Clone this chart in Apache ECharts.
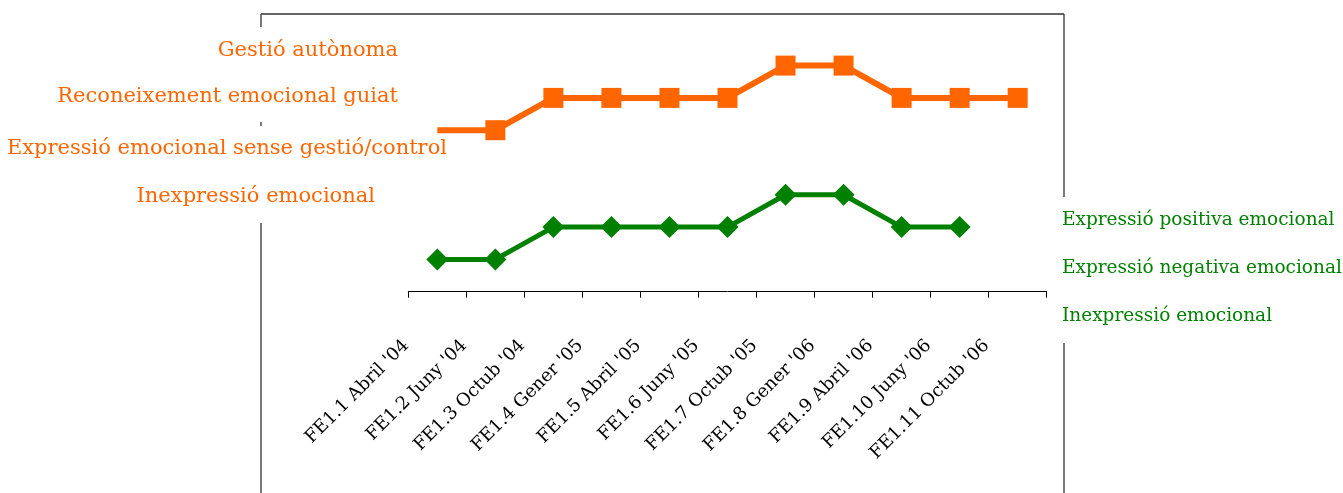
<!DOCTYPE html>
<html>
<head>
<meta charset="utf-8">
<script src="https://cdn.jsdelivr.net/npm/echarts@6/dist/echarts.min.js"></script>
<style>
  html, body { margin: 0; padding: 0; background: #fff; }
  #chart { width: 1343px; height: 493px; }
</style>
</head>
<body>
<div id="chart"></div>
<script>
const categories = ['FE1.1 Abril \'04', 'FE1.2 Juny \'04', 'FE1.3 Octub \'04', 'FE1.4 Gener \'05',
  'FE1.5 Abril \'05', 'FE1.6 Juny \'05', 'FE1.7 Octub \'05', 'FE1.8 Gener \'06',
  'FE1.9 Abril \'06', 'FE1.10 Juny \'06', 'FE1.11 Octub \'06']
// orange scale: 1 Inexpressio .. 4 Gestio autonoma
const gestioValues = [2, 2, 3, 3, 3, 3, 4, 4, 3, 3, 3]
// green scale: 1 Inexpressio .. 3 Expressio positiva
const expressioValues = [1, 1, 2, 2, 2, 2, 3, 3, 2, 2, null]
const orangeLabels = ['Gestió autònoma', 'Reconeixement emocional guiat',
  'Expressió emocional sense gestió/control', 'Inexpressió emocional']
const greenLabels = ['Expressió positiva emocional', 'Expressió negativa emocional', 'Inexpressió emocional']

const ORANGE = '#ff6600'
const GREEN = '#008000'
const FONT = 'DejaVu Serif'

const chart = echarts.init(document.getElementById('chart'))

// text block anchors (x edge, middle y)
const orangePos = [[398, 51], [398, 97], [447, 149], [375, 197]]
const greenPos = [[1062, 220], [1062, 268], [1062, 316]]

const frame = (x1, y1, x2, y2) => ({
  type: 'line',
  shape: { x1: x1, y1: y1, x2: x2, y2: y2 },
  style: { stroke: '#333', lineWidth: 1.3 }
})

const graphics = [
  frame(261, 14, 1064, 14),
  frame(261, 14, 261, 27),
  frame(261, 122, 261, 126),
  frame(261, 223, 261, 493),
  frame(1064, 14, 1064, 197),
  frame(1064, 343, 1064, 493)
]
orangeLabels.forEach((t, i) => {
  graphics.push({
    type: 'text',
    x: orangePos[i][0],
    y: orangePos[i][1],
    style: { text: t, fill: ORANGE, font: '21px "' + FONT + '"', align: 'right', verticalAlign: 'middle' }
  })
})
greenLabels.forEach((t, i) => {
  graphics.push({
    type: 'text',
    x: greenPos[i][0],
    y: greenPos[i][1],
    style: { text: t, fill: GREEN, font: '18.5px "' + FONT + '"', align: 'left', verticalAlign: 'middle' }
  })
})

chart.setOption({
  animation: false,
  grid: { left: 408.3, right: 296.3, top: 33.3, bottom: 201.3 },
  xAxis: {
    type: 'category',
    data: categories,
    boundaryGap: true,
    axisLine: { lineStyle: { color: '#000', width: 1 } },
    axisTick: { show: true, interval: 0, length: 6, lineStyle: { color: '#000' } },
    axisLabel: {
      interval: 0,
      rotate: 45,
      margin: 20,
      padding: [0, 44, 0, 0],
      color: '#000',
      fontFamily: FONT,
      fontSize: 18
    },
    splitLine: { show: false }
  },
  yAxis: [
    { type: 'value', min: 0, max: 8, show: false, splitLine: { show: false } },
    { type: 'value', min: -3, max: 5, show: false, splitLine: { show: false } }
  ],
  series: [
    {
      name: 'Gestió',
      type: 'line',
      yAxisIndex: 1,
      data: gestioValues.map((v, i) => i === 0 ? { value: v, symbolSize: 0 } : v),
      symbol: 'rect',
      symbolSize: 20,
      showAllSymbol: true,
      lineStyle: { color: ORANGE, width: 6 },
      itemStyle: { color: ORANGE }
    },
    {
      name: 'Expressió',
      type: 'line',
      yAxisIndex: 0,
      data: expressioValues,
      symbol: 'diamond',
      symbolSize: 22,
      showAllSymbol: true,
      lineStyle: { color: GREEN, width: 5 },
      itemStyle: { color: GREEN }
    }
  ],
  graphic: graphics
})
</script>
</body>
</html>
